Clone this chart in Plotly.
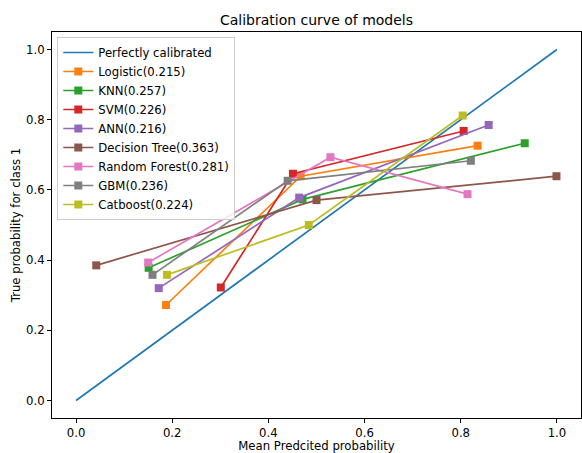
import plotly.graph_objects as go

# ---- data ----
perfect_x = [0.0, 1.0]
perfect_y = [0.0, 1.0]

model_names = ["Logistic(0.215)", "KNN(0.257)", "SVM(0.226)", "ANN(0.216)",
               "Decision Tree(0.363)", "Random Forest(0.281)", "GBM(0.236)",
               "Catboost(0.224)"]

logistic_x = [0.187, 0.467, 0.835]
logistic_y = [0.272, 0.639, 0.726]
knn_x = [0.151, 0.471, 0.933]
knn_y = [0.378, 0.573, 0.733]
svm_x = [0.301, 0.451, 0.806]
svm_y = [0.322, 0.646, 0.768]
ann_x = [0.172, 0.464, 0.858]
ann_y = [0.320, 0.578, 0.785]
dt_x = [0.042, 0.500, 0.999]
dt_y = [0.385, 0.571, 0.639]
rf_x = [0.150, 0.529, 0.814]
rf_y = [0.393, 0.693, 0.588]
gbm_x = [0.159, 0.440, 0.821]
gbm_y = [0.358, 0.626, 0.683]
cat_x = [0.189, 0.484, 0.804]
cat_y = [0.358, 0.500, 0.812]

tick_vals = [0.0, 0.2, 0.4, 0.6, 0.8, 1.0]

colors = ["#ff7f0e", "#2ca02c", "#d62728", "#9467bd", "#8c564b",
          "#e377c2", "#7f7f7f", "#bcbd22"]

series = [(logistic_x, logistic_y), (knn_x, knn_y), (svm_x, svm_y),
          (ann_x, ann_y), (dt_x, dt_y), (rf_x, rf_y), (gbm_x, gbm_y),
          (cat_x, cat_y)]

FONT = "DejaVu Sans"
FS = 11.7

fig = go.Figure()
fig.add_trace(go.Scatter(x=perfect_x, y=perfect_y, mode="lines",
                         name="Perfectly calibrated",
                         line=dict(color="#1f77b4", width=1.7)))
for name, (xs, ys), c in zip(model_names, series, colors):
    fig.add_trace(go.Scatter(x=xs, y=ys, mode="lines+markers", name=name,
                             line=dict(color=c, width=1.7),
                             marker=dict(symbol="square", size=8, color=c)))

axis_common = dict(
    showline=True, mirror=True, linecolor="black", linewidth=1,
    ticks="outside", ticklen=4, tickcolor="black", tickwidth=1,
    showgrid=False, zeroline=False, tickvals=tick_vals, tickformat=".1f",
    tickfont=dict(family=FONT, size=FS, color="black"),
    range=[-0.05, 1.05], automargin=False,
)

fig.update_layout(
    width=582, height=453,
    margin=dict(l=52, r=1, t=32, b=35),
    paper_bgcolor="white", plot_bgcolor="white",
    font=dict(family=FONT, size=FS, color="black"),
    title=dict(text="Calibration curve of models", x=0.5, xref="paper",
               xanchor="center",
               y=1 - 20 / 453, yref="container", yanchor="middle",
               font=dict(family=FONT, size=14, color="black")),
    xaxis=dict(axis_common, title=dict(text="Mean Predcited probability",
                                        font=dict(family=FONT, size=FS),
                                        standoff=5)),
    yaxis=dict(axis_common, title=dict(text="True probability for class 1",
                                        font=dict(family=FONT, size=FS),
                                        standoff=2)),
    legend=dict(x=0.01, y=0.987, xanchor="left", yanchor="top",
                bgcolor="rgba(255,255,255,0.8)", bordercolor="#cccccc",
                borderwidth=1, font=dict(family=FONT, size=FS),
                itemwidth=30, tracegroupgap=0),
    showlegend=True,
)

fig.write_html("out.html",
               config={"displayModeBar": False},
               post_script="document.body.style.margin='0';"
                           "document.body.style.padding='0';")
